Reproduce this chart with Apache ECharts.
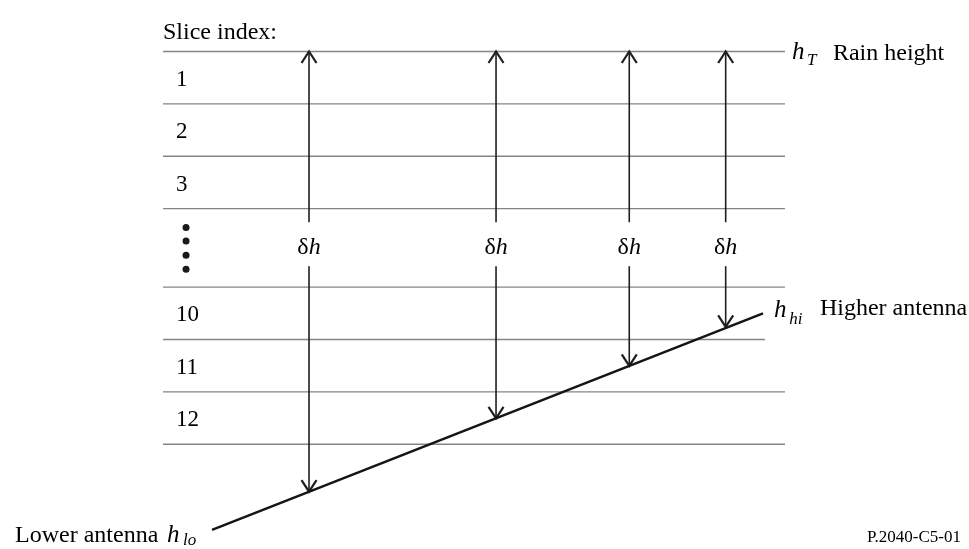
<!DOCTYPE html>
<html><head><meta charset="utf-8">
<script src="https://cdn.jsdelivr.net/npm/echarts@6/dist/echarts.min.js"></script>
<style>html,body{margin:0;padding:0;background:#fff}#c{width:969px;height:549px}</style>
</head><body><div id="c"></div>
<script>
// ---- data (x: horizontal distance units, h: height in slice units) ----
const boundaryHeights = [7.5, 6.5, 5.5, 4.5, 3, 2, 1, 0];
const boundaryStartX  = [16.82, 16.82, 16.82, 16.82, 16.82, 16.82, 16.82, 16.82];
const boundaryEndX    = [81.01, 81.01, 81.01, 81.01, 81.01, 78.95, 81.01, 81.01];

const sliceLabels       = ['1', '2', '3', '10', '11', '12'];
const sliceLabelHeights = [6.96, 5.96, 4.96, 2.46, 1.46, 0.46];
const sliceLabelX       = 18.16;

const ellipsisX       = 19.2;
const ellipsisHeights = [4.14, 3.88, 3.61, 3.34];

const arrowX       = [31.89, 51.19, 64.94, 74.89];
const arrowTop     = [7.5, 7.5, 7.5, 7.5];
const arrowBottom  = [-0.905, 0.496, 1.497, 2.24];
const gapTop       = 4.24;
const gapBottom    = 3.40;
const deltaLabelH  = 3.76;

const antennaX = [21.88, 78.74];
const antennaH = [-1.635, 2.5];

// text annotations: [x, h, text]
const titleText   = [16.82, 7.85, 'Slice index:'];
const plainTexts  = [
  [85.96, 7.45, 'Rain height'],
  [84.62, 2.58, 'Higher antenna'],
  [1.55, -1.74, 'Lower antenna']
];
const symbolTexts = [
  [81.73, 7.49, 'h'],
  [79.88, 2.55, 'h'],
  [17.23, -1.74, 'h']
];
const subTexts = [
  [83.28, 7.32, 'T'],
  [81.45, 2.39, 'hi'],
  [18.89, -1.84, 'lo']
];
const figureId = [89.47, -1.79, 'P.2040-C5-01'];

// ---- chart ----
const FONT = '"Liberation Serif", "Times New Roman", serif';
const chart = echarts.init(document.getElementById('c'), null, {renderer: 'canvas'});

const lineColor = '#858585';
const arrowColor = '#1e1e1e';
const textColor = '#000';

function textSeries(name, items, labelStyle) {
  return {
    type: 'scatter', name, symbolSize: 0, silent: true, z: 10,
    itemStyle: {opacity: 1},
    data: items.map(t => ({value: [t[0], t[1]], name: t[2]})),
    label: Object.assign({
      show: true, position: [0, 0], align: 'left', verticalAlign: 'middle', opacity: 1,
      formatter: p => p.name, color: textColor, fontFamily: FONT, fontSize: 24
    }, labelStyle)
  };
}

const option = {
  animation: false,
  backgroundColor: '#fff',
  grid: {left: 0, right: 0, top: 25.3, bottom: 0},
  xAxis: {type: 'value', min: 0, max: 100, show: false},
  yAxis: {type: 'value', min: -2, max: 8, show: false},
  series: [
    {
      type: 'custom', name: 'slices', silent: true,
      data: boundaryHeights.map((h, i) => [h, boundaryStartX[i], boundaryEndX[i]]),
      renderItem: (params, api) => {
        const a = api.coord([api.value(1), api.value(0)]);
        const b = api.coord([api.value(2), api.value(0)]);
        return {type: 'line', shape: {x1: a[0], y1: a[1], x2: b[0], y2: b[1]},
                style: {stroke: lineColor, lineWidth: 1.4}};
      }
    },
    {
      type: 'custom', name: 'arrows', silent: true, z: 5,
      data: arrowX.map((x, i) => [x, arrowTop[i], arrowBottom[i], gapTop, gapBottom]),
      renderItem: (params, api) => {
        const x = api.value(0);
        const pT = api.coord([x, api.value(1)]);
        const pB = api.coord([x, api.value(2)]);
        const pGT = api.coord([x, api.value(3)]);
        const pGB = api.coord([x, api.value(4)]);
        const w = 7.5, l = 11.5;
        const st = {stroke: arrowColor, lineWidth: 1.6};
        const hs = {stroke: arrowColor, lineWidth: 2.2, fill: null};
        return {type: 'group', children: [
          {type: 'line', shape: {x1: pT[0], y1: pT[1] + 1, x2: pGT[0], y2: pGT[1]}, style: st},
          {type: 'line', shape: {x1: pGB[0], y1: pGB[1], x2: pB[0], y2: pB[1] - 1}, style: st},
          {type: 'polyline', shape: {points: [[pT[0] - w, pT[1] + l], [pT[0], pT[1]], [pT[0] + w, pT[1] + l]]}, style: hs},
          {type: 'polyline', shape: {points: [[pB[0] - w, pB[1] - l], [pB[0], pB[1]], [pB[0] + w, pB[1] - l]]}, style: hs}
        ]};
      }
    },
    {
      type: 'line', name: 'antenna path', silent: true, z: 6,
      data: antennaX.map((x, i) => [x, antennaH[i]]),
      symbol: 'none',
      lineStyle: {color: '#151515', width: 2.6}
    },
    {
      type: 'scatter', name: 'ellipsis', silent: true,
      data: ellipsisHeights.map(h => [ellipsisX, h]),
      symbol: 'circle', symbolSize: 7,
      itemStyle: {color: '#1a1a1a', opacity: 1}
    },
    {
      type: 'scatter', name: 'delta', symbolSize: 0, silent: true, z: 10,
      itemStyle: {opacity: 1},
      data: arrowX.map(x => [x, deltaLabelH]),
      label: {
        show: true, position: [0, 0], align: 'center', verticalAlign: 'middle', opacity: 1,
        formatter: '{d|δ}{h|h}',
        rich: {
          d: {fontFamily: FONT, fontSize: 24, color: textColor},
          h: {fontFamily: FONT, fontSize: 24, fontStyle: 'italic', color: textColor}
        }
      }
    },
    textSeries('slice labels', sliceLabels.map((s, i) => [sliceLabelX, sliceLabelHeights[i], s]), {fontSize: 23}),
    textSeries('title', [titleText], {}),
    textSeries('plain', plainTexts, {}),
    textSeries('symbols', symbolTexts, {fontStyle: 'italic', fontSize: 25}),
    textSeries('subscripts', subTexts, {fontStyle: 'italic', fontSize: 17}),
    textSeries('figure id', [figureId], {fontSize: 17})
  ]
};
chart.setOption(option);
</script>
</body></html>
